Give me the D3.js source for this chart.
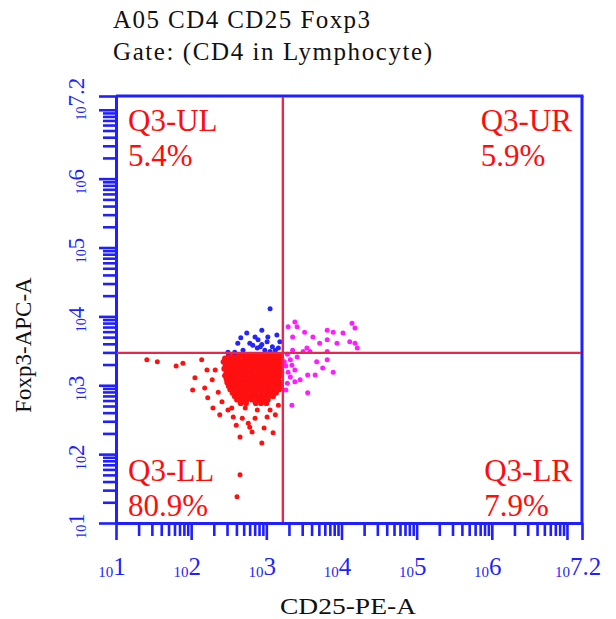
<!DOCTYPE html>
<html><head><meta charset="utf-8">
<script src="https://cdn.jsdelivr.net/npm/d3@7"></script>
<style>body{margin:0;background:#fff}svg{display:block}</style>
</head><body>
<svg id="c" width="616" height="619"></svg>
<script>
// ---------- data ----------
const titleLines = ["A05 CD4 CD25 Foxp3", "Gate: (CD4 in Lymphocyte)"];
const xLabel = "CD25-PE-A";
const yLabel = "Foxp3-APC-A";
const domainExp = [1, 7.2];
const labelExps = [1, 2, 3, 4, 5, 6];
const topLabelExp = "7.2";
const gateExp = {x: 3.22, y: 3.47};
const quadNames = ["Q3-UL", "Q3-UR", "Q3-LL", "Q3-LR"];
const quadPcts = ["5.4%", "5.9%", "80.9%", "7.9%"];

// events as [log10 CD25, log10 Foxp3]
const llCore = [
 [2.50,3.44],[2.57,3.44],[2.62,3.44],[2.68,3.44],[2.74,3.44],[2.80,3.44],[2.87,3.44],[2.93,3.44],[2.99,3.44],[3.05,3.44],[3.11,3.44],[3.17,3.44],
 [2.45,3.39],[2.52,3.39],[2.57,3.39],[2.63,3.39],[2.71,3.39],[2.77,3.39],[2.83,3.39],[2.90,3.39],[2.96,3.39],[3.02,3.39],[3.09,3.39],[3.15,3.39],[3.20,3.39],
 [2.43,3.34],[2.49,3.34],[2.56,3.34],[2.62,3.34],[2.68,3.34],[2.75,3.34],[2.81,3.34],[2.88,3.34],[2.94,3.34],[3.00,3.34],[3.07,3.34],[3.13,3.34],[3.19,3.34],
 [2.46,3.29],[2.51,3.29],[2.58,3.29],[2.65,3.29],[2.71,3.29],[2.78,3.29],[2.84,3.29],[2.91,3.29],[2.97,3.29],[3.04,3.29],[3.10,3.29],[3.16,3.29],[3.20,3.29],
 [2.44,3.24],[2.48,3.24],[2.54,3.24],[2.60,3.24],[2.67,3.24],[2.73,3.24],[2.80,3.24],[2.86,3.24],[2.93,3.24],[2.99,3.24],[3.06,3.24],[3.12,3.24],[3.18,3.24],
 [2.47,3.19],[2.50,3.19],[2.56,3.19],[2.63,3.19],[2.69,3.19],[2.76,3.19],[2.82,3.19],[2.89,3.19],[2.95,3.19],[3.02,3.19],[3.08,3.19],[3.14,3.19],[3.20,3.19],
 [2.45,3.14],[2.50,3.14],[2.55,3.14],[2.61,3.14],[2.68,3.14],[2.74,3.14],[2.81,3.14],[2.87,3.14],[2.94,3.14],[3.00,3.14],[3.07,3.14],[3.13,3.14],[3.19,3.14],
 [2.47,3.09],[2.51,3.09],[2.57,3.09],[2.64,3.09],[2.70,3.09],[2.77,3.09],[2.83,3.09],[2.90,3.09],[2.96,3.09],[3.03,3.09],[3.09,3.09],[3.16,3.09],
 [2.48,3.04],[2.53,3.04],[2.59,3.04],[2.66,3.04],[2.72,3.04],[2.79,3.04],[2.85,3.04],[2.92,3.04],[2.98,3.04],[3.05,3.04],[3.11,3.04],[3.18,3.04],
 [2.50,2.99],[2.55,2.99],[2.62,2.99],[2.68,2.99],[2.75,2.99],[2.81,2.99],[2.88,2.99],[2.94,2.99],[3.01,2.99],[3.07,2.99],[3.14,2.99],[3.19,2.98],
 [2.52,2.94],[2.57,2.94],[2.64,2.94],[2.71,2.94],[2.77,2.94],[2.84,2.94],[2.90,2.94],[2.97,2.94],[3.03,2.94],[3.10,2.94],[3.17,2.94],
 [2.55,2.89],[2.60,2.89],[2.67,2.89],[2.73,2.89],[2.80,2.89],[2.86,2.89],[2.93,2.89],[3.00,2.89],[3.06,2.89],[3.13,2.89],
 [2.58,2.84],[2.63,2.84],[2.70,2.84],[2.76,2.84],[2.83,2.84],[2.90,2.84],[2.96,2.84],[3.03,2.84],[3.09,2.84],
 [2.61,2.79],[2.67,2.79],[2.74,2.79],[2.81,2.79],[2.88,2.79],[2.95,2.79],[3.02,2.79],
 [2.66,2.74],[2.73,2.74],[2.86,2.74],[2.93,2.74],[3.00,2.74]
];
const llSparse = [
 [1.41,3.37],[1.55,3.34],[1.80,3.28],[1.89,3.32],[2.05,3.11],[2.02,2.93],[2.18,2.96],[2.21,3.22],
 [2.22,2.82],[2.29,2.67],[2.38,2.57],[2.54,2.67],[2.56,2.54],[2.68,2.52],[2.65,2.25],[2.76,2.45],
 [2.78,2.39],[2.85,2.52],[2.94,2.16],[3.01,2.54],[3.09,2.31],[3.12,2.57],[2.72,2.67],[2.88,2.64],
 [2.65,1.70],[2.61,1.38],[2.28,3.08],[2.36,2.90],[2.32,3.22],[2.14,3.37],[2.41,2.76],[2.49,2.64],
 [2.97,2.38],[2.81,2.32],[3.05,2.64],[3.16,2.71],[2.60,2.42]
];
const ulPoints = [
 [3.05,4.11],[2.74,3.76],[2.62,3.61],[2.49,3.48],[2.78,3.61],[2.85,3.70],[2.89,3.66],[2.94,3.80],
 [3.01,3.63],[3.02,3.70],[3.14,3.73],[3.08,3.56],[2.98,3.51],[3.12,3.51],[2.92,3.56],[2.82,3.58],
 [2.88,3.54],[3.16,3.54],[2.69,3.51],[2.58,3.48],[2.66,3.69],[2.94,3.59],[3.05,3.49],[3.18,3.63]
];
const urPoints = [
 [3.38,3.92],[3.41,3.85],[3.29,3.85],[3.35,3.70],[3.51,3.77],[3.62,3.70],[3.81,3.80],[3.89,3.77],
 [4.02,3.76],[4.14,3.90],[4.18,3.83],[4.11,3.63],[4.18,3.61],[4.21,3.54],[3.81,3.66],[3.71,3.61],
 [3.94,3.61],[3.54,3.54],[3.35,3.51],[3.49,3.49],[3.58,3.49],[3.81,3.49]
];
const lrPoints = [
 [3.28,3.45],[3.24,3.34],[3.32,3.37],[3.41,3.41],[3.67,3.34],[3.81,3.37],[3.89,3.19],[3.75,3.25],
 [3.65,3.15],[3.55,3.15],[3.38,3.22],[3.32,3.12],[3.38,3.05],[3.28,3.03],[3.55,2.89],[3.34,2.71],
 [3.45,3.08],[3.26,3.28],[3.29,3.19],[3.34,3.29],[3.26,2.93]
];

// ---------- drawing ----------
const svg = d3.select("#c");
const BLUE = "#1f1fff", RED = "#ff0d0d", GATE = "#e8274d";
const serif = "'Liberation Serif', 'Times New Roman', serif";
const x = d3.scaleLog().domain([10 ** domainExp[0], 10 ** domainExp[1]]).range([116, 582]);
const y = d3.scaleLog().domain([10 ** domainExp[0], 10 ** domainExp[1]]).range([523, 96]);

// title
svg.append("g").selectAll("text").data(titleLines).join("text")
  .attr("x", 113).attr("y", (d, i) => 28 + i * 32)
  .attr("font-family", serif).attr("font-size", 25).attr("fill", "#111")
  .attr("textLength", (d, i) => i === 0 ? 257 : 319).attr("lengthAdjust", "spacing")
  .text(d => d);

// tick values
const tickVals = [];
for (let n = domainExp[0]; n < 8; n++) for (let k = 1; k <= 9; k++) {
  const v = k * 10 ** n; if (v <= 10 ** domainExp[1] * 1.0001) tickVals.push(v);
}
tickVals.push(10 ** domainExp[1]);
const isMajor = v => { const e = Math.log10(v); return Math.abs(e - Math.round(e)) < 1e-6 || Math.abs(e - domainExp[1]) < 1e-6; };

function styleAxis(g) {
  g.select(".domain").attr("stroke", BLUE).attr("stroke-width", 3);
  g.selectAll(".tick line").attr("stroke", BLUE).attr("stroke-width", 2.6);
  g.selectAll(".tick text").remove();
}
const gx = svg.append("g").attr("transform", "translate(0,523)")
  .call(d3.axisBottom(x).tickValues(tickVals).tickSize(13).tickSizeOuter(0).tickFormat(""));
styleAxis(gx);
gx.selectAll(".tick line").filter(isMajor).attr("y2", 17);
const gy = svg.append("g").attr("transform", "translate(116,0)")
  .call(d3.axisLeft(y).tickValues(tickVals).tickSize(13).tickSizeOuter(0).tickFormat(""));
styleAxis(gy);
gy.selectAll(".tick line").filter(isMajor).attr("x2", -17);

// top and right frame
svg.append("line").attr("x1", 116).attr("x2", 583.5).attr("y1", 96).attr("y2", 96).attr("stroke", BLUE).attr("stroke-width", 3);
svg.append("line").attr("x1", 582).attr("x2", 582).attr("y1", 96).attr("y2", 523).attr("stroke", BLUE).attr("stroke-width", 3);

// x tick labels
const xlab = svg.append("g").attr("fill", BLUE).attr("font-family", serif);
const xLabs = labelExps.map(String).concat([topLabelExp]);
xLabs.forEach(e => {
  const t = xlab.append("text").attr("x", x(10 ** (+e)) - 4).attr("y", 575).attr("text-anchor", "middle");
  t.append("tspan").attr("font-size", 15).attr("dy", 2).text("10");
  t.append("tspan").attr("font-size", 25).attr("dy", -2).text(e);
});
// y tick labels (rotated)
const ylab = svg.append("g").attr("fill", BLUE).attr("font-family", serif);
xLabs.forEach(e => {
  const t = ylab.append("text").attr("transform", `translate(84,${y(10 ** (+e)) + 3}) rotate(-90)`).attr("text-anchor", "middle");
  t.append("tspan").attr("font-size", 14).attr("dy", 2).text("10");
  t.append("tspan").attr("font-size", 23).attr("dy", -2).text(e);
});

// axis titles
svg.append("text").attr("x", 348).attr("y", 614).attr("text-anchor", "middle")
  .attr("font-family", serif).attr("font-size", 24).attr("fill", "#111")
  .attr("textLength", 136).attr("lengthAdjust", "spacingAndGlyphs").text(xLabel);
svg.append("text").attr("transform", "translate(31,345) rotate(-90)").attr("text-anchor", "middle")
  .attr("font-family", serif).attr("font-size", 23).attr("fill", "#111").text(yLabel);

// events
const dots = svg.append("g");
const drawDots = (arr, color, r) => dots.append("g").selectAll("circle").data(arr).join("circle")
  .attr("cx", d => x(10 ** d[0])).attr("cy", d => y(10 ** d[1])).attr("r", r).attr("fill", color);
drawDots(llCore, "#ff1010", 2.9);
drawDots(llSparse, "#ff1010", 2.5);
drawDots(ulPoints, "#2424ff", 2.5);
drawDots(urPoints, "#ff1cff", 2.5);
drawDots(lrPoints, "#ff1cff", 2.5);

// gate lines
svg.append("line").attr("x1", x(10 ** gateExp.x)).attr("x2", x(10 ** gateExp.x)).attr("y1", 97).attr("y2", 522)
  .attr("stroke", GATE).attr("stroke-width", 2.4);
svg.append("line").attr("x1", 117).attr("x2", 581).attr("y1", y(10 ** gateExp.y)).attr("y2", y(10 ** gateExp.y))
  .attr("stroke", GATE).attr("stroke-width", 2.4);

// quadrant labels: one text per quadrant, two lines as tspans
const ql = svg.append("g").attr("font-family", serif).attr("font-size", 31).attr("fill", RED);
[[0, 128, 131, false], [1, 572, 131, true], [2, 128, 481, false], [3, 572, 481, true]].forEach(([i, qx, qy, right]) => {
  const t = ql.append("text").attr("y", qy);
  const s1 = t.append("tspan").attr("x", qx).attr("y", qy).attr("text-anchor", right ? "end" : "start").text(quadNames[i]);
  const lx = right ? qx - s1.node().getComputedTextLength() : qx;
  t.append("tspan").attr("x", lx).attr("y", qy + 34.5).attr("text-anchor", "start").text(quadPcts[i]);
});
</script>
</body></html>
